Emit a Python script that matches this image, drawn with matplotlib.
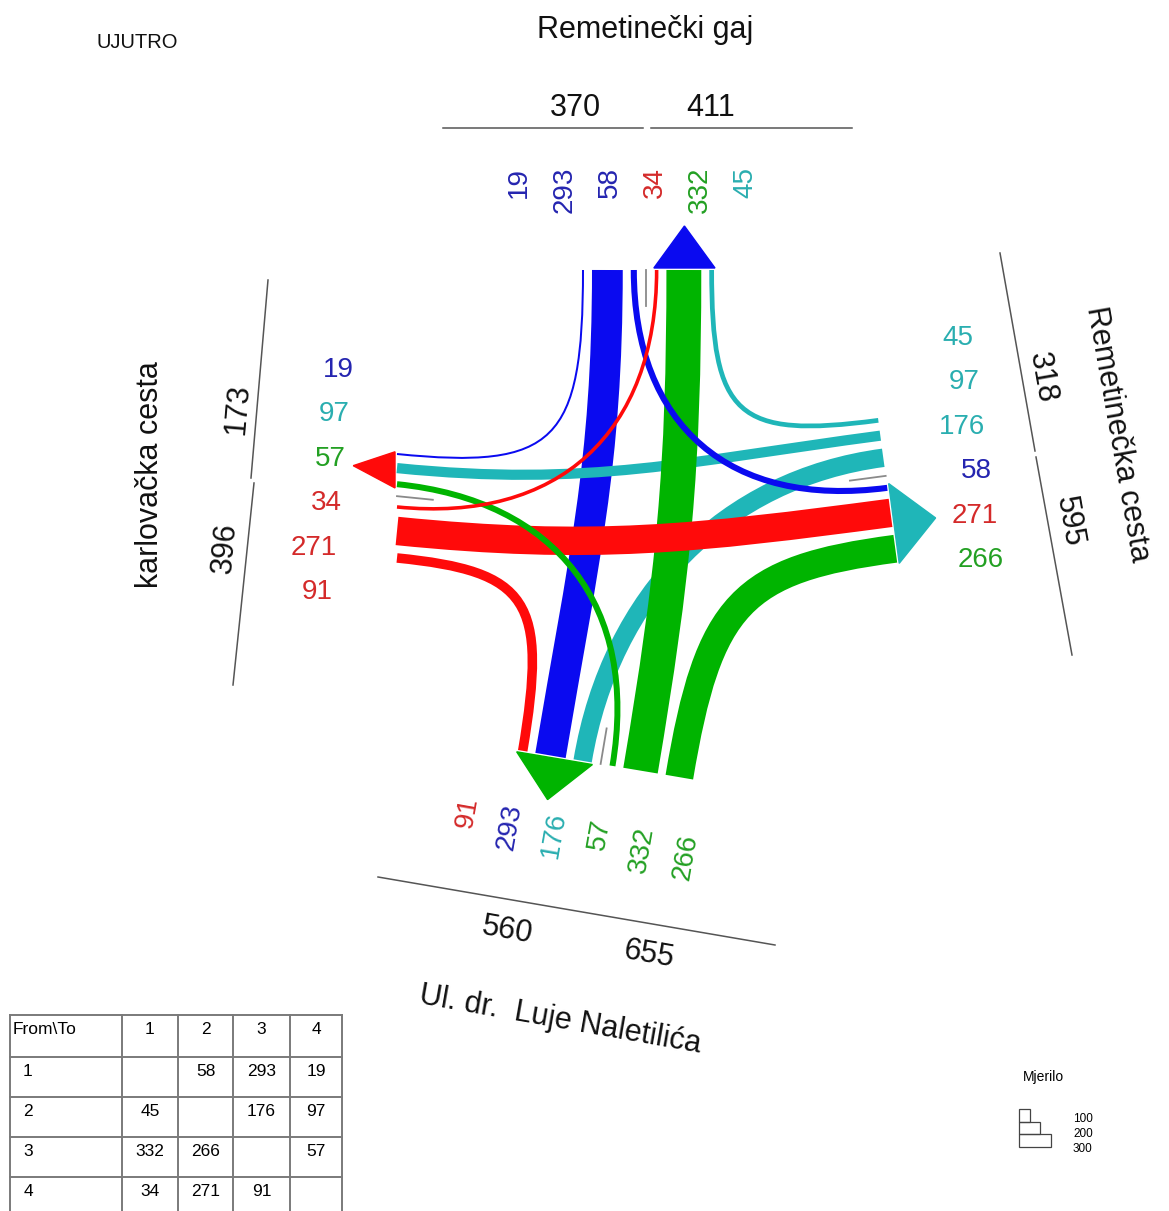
import numpy as np
import matplotlib
matplotlib.use("Agg")
import matplotlib.pyplot as plt
from matplotlib.path import Path
from matplotlib.patches import PathPatch, Polygon, Rectangle

plt.rcParams['font.family'] = ['Liberation Sans', 'DejaVu Sans']

# arms: 1 = north, 2 = east, 3 = south, 4 = west
arm_names = ["Remetinečki gaj", "Remetinečka cesta", "Ul. dr.  Luje Naletilića", "karlovačka cesta"]
origins = [1, 1, 1, 2, 2, 2, 3, 3, 3, 4, 4, 4]
destinations = [2, 3, 4, 1, 3, 4, 1, 2, 4, 1, 2, 3]
volumes = [58, 293, 19, 45, 176, 97, 332, 266, 57, 34, 271, 91]
scale_steps = [100, 200, 300]
period_label = "UJUTRO"
scale_title = "Mjerilo"

vol = {(o, d): v for o, d, v in zip(origins, destinations, volumes)}

# drawing layout (pixels of the 1169x1211 canvas)
PX = 0.105      # band width in px per vehicle
GAP = 8
MEDIAN = 18
PT = 0.72       # px -> points at dpi 100

band_col = {1: '#0a0af0', 2: '#1fb6b8', 3: '#00b400', 4: '#ff0a0a'}
text_col = {1: '#2525b0', 2: '#2aaeb0', 3: '#23a023', 4: '#d42a2a'}


def unit(v):
    v = np.asarray(v, float)
    return v / np.hypot(*v)


gates = {
    1: dict(p0=(582, 270), along=(1, 0), inward=(0, 1), first='out', partners=[4, 3, 2]),
    2: dict(p0=(878, 418), along=(0.131, 0.991), inward=(-0.991, 0.131), first='out', partners=[1, 4, 3]),
    3: dict(p0=(518, 750), along=(0.986, 0.166), inward=(0.166, -0.986), first='in', partners=[4, 1, 2]),
    4: dict(p0=(397, 453), along=(0, 1), inward=(0.995, 0.1), first='in', partners=[1, 2, 3]),
}

lane_pos, group_span, median_off, lane_order = {}, {}, {}, {}
for a, g in gates.items():
    p0 = np.array(g['p0'], float)
    al = unit(g['along'])
    groups = {'out': [(a, b) for b in g['partners']], 'in': [(b, a) for b in g['partners']]}
    order = [g['first'], 'in' if g['first'] == 'out' else 'out']
    off = 0.0
    lane_order[a] = []
    for gi, name in enumerate(order):
        start = off
        for k, key in enumerate(groups[name]):
            w = vol[key] * PX
            lane_pos[(a, key)] = p0 + al * (off + w / 2)
            lane_order[a].append(key)
            off += w
            if k < len(groups[name]) - 1:
                off += GAP
        group_span[(a, name)] = (start, off)
        if gi == 0:
            median_off[a] = off + MEDIAN / 2
            off += MEDIAN

fig = plt.figure(figsize=(11.69, 12.11), dpi=100)
ax = fig.add_axes([0, 0, 1, 1])
ax.set_xlim(0, 1169)
ax.set_ylim(1211, 0)
ax.axis('off')

# flow bands
for o, d, v in zip(origins, destinations, volumes):
    P0 = lane_pos[(o, (o, d))]
    P3 = lane_pos[(d, (o, d))]
    d0 = unit(gates[o]['inward'])
    d3 = unit(gates[d]['inward'])
    turn = (d - o) % 4
    if turn == 2:
        h0 = h3 = 0.4 * np.hypot(*(P3 - P0))
    else:
        s, u = np.linalg.solve(np.array([d0, -d3]).T, P3 - P0)
        f = 0.62 if turn == 1 else 0.85
        h0, h3 = f * s, f * u
    verts = [P0, P0 + d0 * h0, P3 + d3 * h3, P3]
    path = Path(verts, [Path.MOVETO, Path.CURVE4, Path.CURVE4, Path.CURVE4])
    z = 1 + 0.1 * o + (1 if v < 70 else 0)
    ax.add_patch(PathPatch(path, fill=False, edgecolor=band_col[o], lw=v * PX * PT,
                           capstyle='butt', zorder=z))

# arrows, median marks
ARROW_H = 42
for a, g in gates.items():
    p0 = np.array(g['p0'], float)
    al = unit(g['along'])
    inw = unit(g['inward'])
    s0, s1 = group_span[(a, 'in')]
    base0 = p0 + al * (s0 - 1) - inw * 2
    base1 = p0 + al * (s1 + 1) - inw * 2
    apex = p0 + al * ((s0 + s1) / 2) - inw * (2 + ARROW_H)
    ax.add_patch(Polygon([base0, base1, apex], closed=True, color=band_col[a], zorder=5))
    m = p0 + al * median_off[a]
    ax.plot([m[0], m[0] + inw[0] * 36], [m[1], m[1] + inw[1] * 36], color='#8a8a8a', lw=1.3, zorder=4)

# lane labels
label_layout = {
    1: dict(start=(519, 167), step=(45.2, 0), rot=90),
    2: dict(start=(973, 338), step=(6.2, 44.4), rot=0),
    3: dict(start=(470, 797), step=(44, 7.5), rot=80),
    4: dict(start=(354, 370), step=(-4.2, 44.4), rot=0),
}
for a, lay in label_layout.items():
    for k, key in enumerate(lane_order[a]):
        x = lay['start'][0] + k * lay['step'][0]
        y = lay['start'][1] + k * lay['step'][1]
        ax.text(x, y, str(vol[key]), color=text_col[key[0]], fontsize=20, rotation=lay['rot'],
                rotation_mode='anchor', ha='right', va='center')

# arm totals
out_tot = {a: sum(v for (o, d), v in vol.items() if o == a) for a in gates}
in_tot = {a: sum(v for (o, d), v in vol.items() if d == a) for a in gates}
total_layout = {
    1: dict(out=(575, 108), inn=(711, 108), rot=0),
    2: dict(out=(1042, 378), inn=(1069, 522), rot=-80),
    3: dict(out=(649, 955), inn=(507, 931), rot=-10),
    4: dict(out=(225, 548), inn=(238, 409), rot=85),
}
for a, lay in total_layout.items():
    ax.text(*lay['out'], str(out_tot[a]), fontsize=22, rotation=lay['rot'], ha='center', va='center',
            rotation_mode='anchor', color='#111111')
    ax.text(*lay['inn'], str(in_tot[a]), fontsize=22, rotation=lay['rot'], ha='center', va='center',
            rotation_mode='anchor', color='#111111')

road_lines = [
    [(443, 128), (643, 128)], [(651, 128), (852, 128)],
    [(1000, 253), (1035, 451)], [(1036, 457), (1072, 655)],
    [(378, 877), (775, 945)],
    [(268, 280), (251, 478)], [(254, 483), (233, 685)],
]
for seg in road_lines:
    ax.plot([seg[0][0], seg[1][0]], [seg[0][1], seg[1][1]], color='#555555', lw=1.1)

name_layout = [((645, 30), 0), ((1117, 434), -80), ((560, 1020), -10), ((150, 475), 90)]
for name, (pos, rot) in zip(arm_names, name_layout):
    ax.text(*pos, name, fontsize=22, rotation=rot, ha='center', va='center',
            rotation_mode='anchor', color='#111111')

ax.text(137, 42, period_label, fontsize=14.5, ha='center', va='center', color='#111111')

# origin-destination table
col_x = [10, 122, 178, 233, 290, 342]
row_y = [1015, 1057, 1097, 1137, 1177]
for x in col_x:
    ax.plot([x, x], [row_y[0], 1211], color='#7a7a7a', lw=1.4)
for y in row_y:
    ax.plot([col_x[0], col_x[-1]], [y, y], color='#7a7a7a', lw=1.4)
TFS = 12.5
ax.text(col_x[0] + 3, row_y[0] + 15, "From\\To", fontsize=TFS, ha='left', va='center')
arms = [1, 2, 3, 4]
for j, d in enumerate(arms):
    ax.text((col_x[j + 1] + col_x[j + 2]) / 2, row_y[0] + 15, str(d), fontsize=TFS, ha='center', va='center')
for i, o in enumerate(arms):
    ty = row_y[i + 1] + 14
    ax.text(col_x[0] + 18, ty, str(o), fontsize=TFS, ha='center', va='center')
    for j, d in enumerate(arms):
        if (o, d) in vol:
            ax.text((col_x[j + 1] + col_x[j + 2]) / 2, ty, str(vol[(o, d)]), fontsize=TFS,
                    ha='center', va='center')

# scale legend
ax.text(1043, 1077, scale_title, fontsize=10, ha='center', va='center')
for k, val in enumerate(scale_steps):
    ax.add_patch(Rectangle((1019, 1109 + 12.5 * k), val * PX, 12.5, fill=False,
                           edgecolor='#444444', lw=0.9))
    ax.text(1073, 1119 + 15 * k, str(val), fontsize=8.5, ha='left', va='center')

fig.savefig('out.png', dpi=100)
